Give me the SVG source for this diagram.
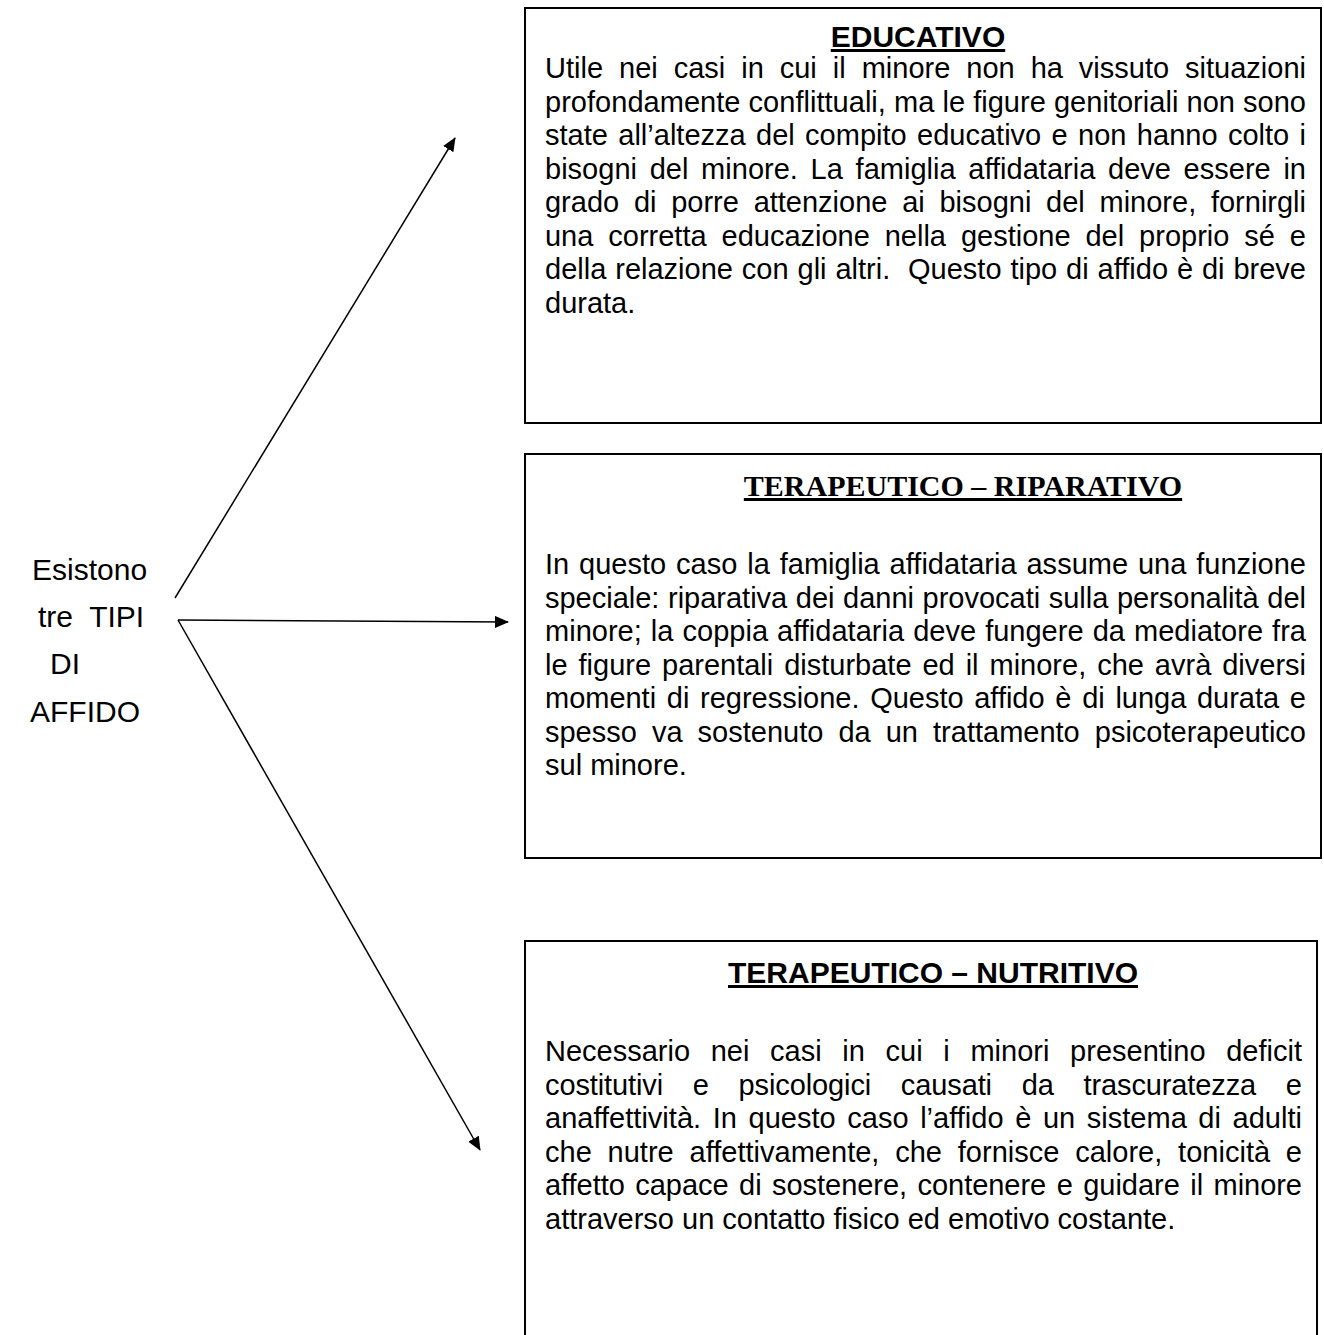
<svg xmlns="http://www.w3.org/2000/svg" width="1324" height="1335" viewBox="0 0 1324 1335">
<style>
.box{fill:#fff;stroke:#000;stroke-width:2}
.body{font-family:"Liberation Sans",Arial,sans-serif;font-size:29px;fill:#000}
.h{font-family:"Liberation Sans",Arial,sans-serif;font-size:30px;font-weight:bold;text-decoration:underline;fill:#000}
.hs{font-family:"Liberation Serif","Times New Roman",serif;font-size:30px;font-weight:bold;text-decoration:underline;fill:#000}
.lbl{font-family:"Liberation Sans",Arial,sans-serif;font-size:30px;fill:#000}
.c{stroke:#000;stroke-width:1.5;fill:none}
</style>
<defs>
<marker id="ah" viewBox="0 0 14 12" refX="13" refY="6" markerWidth="14" markerHeight="12" markerUnits="userSpaceOnUse" orient="auto"><path d="M0,0 L14,6 L0,12 z" fill="#000"/></marker>
</defs>
<rect width="1324" height="1335" fill="#fff"/>
<g id="root">
<text class="lbl" x="32" y="580">Esistono</text>
<text class="lbl" x="38" y="627" xml:space="preserve">tre  TIPI</text>
<text class="lbl" x="50" y="674">DI</text>
<text class="lbl" x="30" y="722">AFFIDO</text>
</g>
<g id="connectors">
<line class="c" x1="175" y1="598" x2="455" y2="138" marker-end="url(#ah)"/>
<line class="c" x1="178" y1="620" x2="508" y2="622" marker-end="url(#ah)"/>
<line class="c" x1="178" y1="620" x2="480" y2="1150" marker-end="url(#ah)"/>
</g>
<g id="educativo">
<rect class="box" x="525" y="8" width="796" height="415"/>
<text class="h" x="918" y="47" text-anchor="middle">EDUCATIVO</text>
<g class="body">
<text x="545" y="78" word-spacing="7.9" textLength="761">Utile nei casi in cui il minore non ha vissuto situazioni</text>
<text x="545" y="111.5" textLength="761">profondamente conflittuali, ma le figure genitoriali non sono</text>
<text x="545" y="145" word-spacing="2.3" textLength="761">state all’altezza del compito educativo e non hanno colto i</text>
<text x="545" y="178.5" word-spacing="4.6" textLength="761">bisogni del minore. La famiglia affidataria deve essere in</text>
<text x="545" y="212" word-spacing="6.7" textLength="761">grado di porre attenzione ai bisogni del minore, fornirgli</text>
<text x="545" y="245.5" word-spacing="6.9" textLength="761">una corretta educazione nella gestione del proprio sé e</text>
<text x="545" y="279" word-spacing="0.8" textLength="761" xml:space="preserve">della relazione con gli altri.  Questo tipo di affido è di breve</text>
<text x="545" y="312.5">durata.</text>
</g>
</g>
<g id="riparativo">
<rect class="box" x="525" y="454" width="796" height="404"/>
<text class="hs" x="963" y="496" text-anchor="middle">TERAPEUTICO – RIPARATIVO</text>
<g class="body">
<text x="545" y="574" word-spacing="1.8" textLength="761">In questo caso la famiglia affidataria assume una funzione</text>
<text x="545" y="607.5" word-spacing="0.5" textLength="761">speciale: riparativa dei danni provocati sulla personalità del</text>
<text x="545" y="641" word-spacing="1" textLength="761">minore; la coppia affidataria deve fungere da mediatore fra</text>
<text x="545" y="674.5" word-spacing="2.9" textLength="761">le figure parentali disturbate ed il minore, che avrà diversi</text>
<text x="545" y="708" word-spacing="2.7" textLength="761">momenti di regressione. Questo affido è di lunga durata e</text>
<text x="545" y="741.5" word-spacing="7" textLength="761">spesso va sostenuto da un trattamento psicoterapeutico</text>
<text x="545" y="775">sul minore.</text>
</g>
</g>
<g id="nutritivo">
<path class="box" d="M525,1336 V941 H1317 V1336"/>
<text class="h" x="933" y="983" text-anchor="middle">TERAPEUTICO – NUTRITIVO</text>
<g class="body">
<text x="545" y="1061" word-spacing="12.6" textLength="757">Necessario nei casi in cui i minori presentino deficit</text>
<text x="545" y="1094.5" word-spacing="21.8" textLength="757">costitutivi e psicologici causati da trascuratezza e</text>
<text x="545" y="1128" word-spacing="3.5" textLength="757">anaffettività. In questo caso l’affido è un sistema di adulti</text>
<text x="545" y="1161.5" word-spacing="7.7" textLength="757">che nutre affettivamente, che fornisce calore, tonicità e</text>
<text x="545" y="1195" word-spacing="2.5" textLength="757">affetto capace di sostenere, contenere e guidare il minore</text>
<text x="545" y="1228.5">attraverso un contatto fisico ed emotivo costante.</text>
</g>
</g>
</svg>
